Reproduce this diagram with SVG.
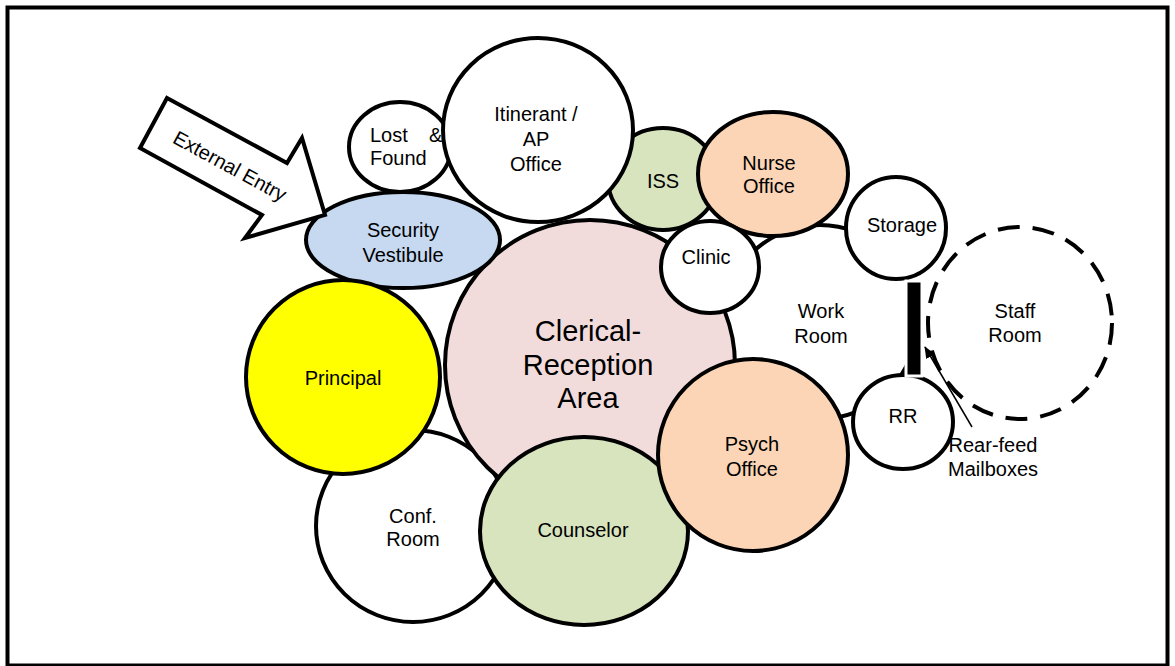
<svg xmlns="http://www.w3.org/2000/svg" width="1175" height="666" viewBox="0 0 1175 666">
  <defs>
    <marker id="arrowHead" viewBox="0 0 12 10" refX="11" refY="5" markerWidth="12" markerHeight="10" markerUnits="userSpaceOnUse" orient="auto">
      <path d="M0,0 L12,5 L0,10 Z" fill="#000"/>
    </marker>
  </defs>
  <style>
    .room { stroke: #000; stroke-width: 4; }
    .plain { fill: #fff; }
    .pink { fill: #F2DCDB; }
    .blue { fill: #C6D9F1; }
    .yellow { fill: #FFFF00; }
    .green { fill: #D7E4BD; }
    .peach { fill: #FBD5B5; }
    .dashed { fill: none; stroke: #000; stroke-width: 4; stroke-dasharray: 22 13; }
    text { font-family: "Liberation Sans", Arial, sans-serif; font-size: 20px; fill: #000; text-anchor: middle; }
    .big { font-size: 29px; }
  </style>

  <!-- page frame -->
  <rect x="7.5" y="7.5" width="1160" height="658" fill="#fff" stroke="#000" stroke-width="4"/>

  <!-- rooms, back to front -->
  <g id="work-room">
    <circle class="room plain" cx="820" cy="322" r="97"/>
    <text x="821" y="318">Work</text>
    <text x="821" y="343">Room</text>
  </g>
  <g id="staff-room">
    <ellipse class="dashed" cx="1020" cy="323" rx="92" ry="96"/>
    <text x="1015" y="318">Staff</text>
    <text x="1015" y="342">Room</text>
  </g>
  <g id="storage">
    <ellipse class="room plain" cx="896" cy="228" rx="50" ry="51"/>
    <text x="902" y="232">Storage</text>
  </g>
  <g id="rr">
    <ellipse class="room plain" cx="903" cy="422" rx="50" ry="47"/>
    <text x="903" y="423">RR</text>
  </g>
  <g id="mailboxes">
    <rect x="906" y="281" width="16" height="95" fill="#000" stroke="#fff" stroke-width="3"/>
  </g>
  <g id="iss">
    <ellipse class="room green" cx="663" cy="179" rx="55" ry="51"/>
    <text x="663" y="188">ISS</text>
  </g>
  <g id="nurse-office">
    <ellipse class="room peach" cx="773" cy="174" rx="75" ry="62"/>
    <text x="769" y="170">Nurse</text>
    <text x="769" y="193">Office</text>
  </g>
  <g id="lost-found">
    <ellipse class="room plain" cx="400" cy="147" rx="51" ry="45"/>
    <text style="text-anchor:start"><tspan x="370" y="142">Lost</tspan><tspan x="429" y="142">&amp;</tspan></text>
    <text style="text-anchor:start" x="370" y="165">Found</text>
  </g>
  <g id="itinerant-office">
    <ellipse class="room plain" cx="538" cy="130" rx="95" ry="92"/>
    <text x="536" y="121">Itinerant /</text>
    <text x="536" y="146">AP</text>
    <text x="536" y="171">Office</text>
  </g>
  <g id="conf-room">
    <ellipse class="room plain" cx="413" cy="526" rx="97" ry="96"/>
    <text x="413" y="523">Conf.</text>
    <text x="413" y="546">Room</text>
  </g>
  <g id="clerical-reception">
    <circle class="room pink" cx="590" cy="365" r="145"/>
    <text class="big" x="588" y="341">Clerical-</text>
    <text class="big" x="588" y="375">Reception</text>
    <text class="big" x="588" y="408">Area</text>
  </g>
  <g id="security-vestibule">
    <ellipse class="room blue" cx="403" cy="240" rx="97" ry="48"/>
    <text x="403" y="237">Security</text>
    <text x="403" y="262">Vestibule</text>
  </g>
  <g id="clinic">
    <ellipse class="room plain" cx="710" cy="267" rx="49" ry="46"/>
    <text x="706" y="264">Clinic</text>
  </g>
  <g id="principal">
    <circle class="room yellow" cx="343" cy="377" r="97"/>
    <text x="343" y="385">Principal</text>
  </g>
  <g id="counselor">
    <ellipse class="room green" cx="584" cy="531" rx="104" ry="94"/>
    <text x="583" y="537">Counselor</text>
  </g>
  <g id="psych-office">
    <ellipse class="room peach" cx="753" cy="455" rx="95" ry="96"/>
    <text x="752" y="451">Psych</text>
    <text x="752" y="476">Office</text>
  </g>

  <!-- entry arrow -->
  <g id="external-entry">
    <path d="M167,98 L287,163 L302,138 L325,215 L245,238 L262,215 L140,148 Z" fill="#fff" stroke="#000" stroke-width="4" stroke-linejoin="miter"/>
    <text transform="translate(230,166) rotate(28.5)" x="0" y="7">External Entry</text>
  </g>

  <!-- callout -->
  <g id="connectors">
    <line x1="972" y1="427" x2="925" y2="347" stroke="#000" stroke-width="1.5" marker-end="url(#arrowHead)"/>
  </g>
  <g id="mailbox-label">
    <text x="993" y="452">Rear-feed</text>
    <text x="993" y="476">Mailboxes</text>
  </g>
</svg>
